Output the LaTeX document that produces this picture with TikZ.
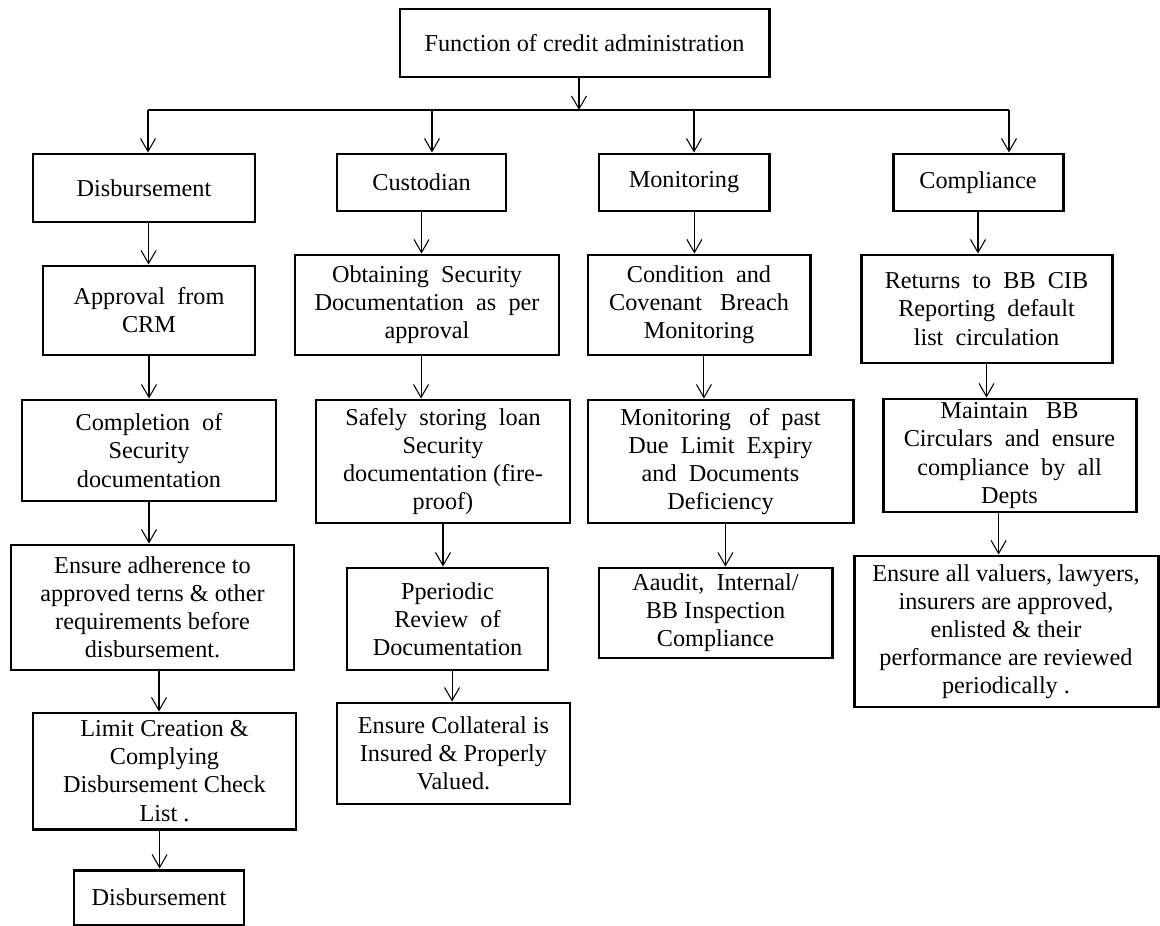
\documentclass[tikz,border=0pt]{standalone}
\usepackage{fontspec}
\setmainfont{Liberation Serif}
\usetikzlibrary{arrows.meta,fit}

\tikzset{
  box/.style={draw, line width=1.7pt, inner sep=0pt},
  txt/.style={align=center, inner sep=0pt, font=\fontsize{13.8}{16}\selectfont},
  arr/.style={line width=0.6pt, -{Straight Barb[length=2.6mm,width=3mm]}}
}
% box with its text set in the middle
\newcommand{\tbox}[3]{\node[box, fit={#2}, label={[txt]center:{#3}}] (#1) {};}

\begin{document}
\begin{tikzpicture}[x=0.02cm, y=-0.02cm]
\useasboundingbox (0,0) rectangle (1160,926);

\tbox{top}{(400,9) (769,77)}{Function of credit administration}

\tbox{disb}{(33,154) (255,222)}{Disbursement}
\tbox{cust}{(337,154) (506,211)}{Custodian}
\tbox{moni}{(599,154) (769,211)}{Monitoring}
\tbox{comp}{(893,154) (1063,211)}{Compliance}

\tbox{appr}{(43,266) (255,355)}{Approval \ from\\CRM}
\tbox{obt}{(295,255) (559,355)}{Obtaining \ Security\\Documentation \ as \ per\\approval}
\tbox{cond}{(588,255) (810,355)}{Condition \ and\\Covenant \ \ Breach\\Monitoring}
\tbox{ret}{(861,255) (1112,363)}{Returns \ to \ BB \ CIB\\Reporting \ default\\list \ circulation}

\tbox{compl}{(22,400) (276,501)}{Completion \ of\\Security\\documentation}
\tbox{safe}{(316,400) (570,523)}{Safely \ storing \ loan\\Security\\documentation (fire-\\proof)}
\tbox{past}{(588,400) (853,523)}{Monitoring \ \ of \ past\\Due \ Limit \ Expiry\\and \ Documents\\Deficiency}
\tbox{maint}{(883,399) (1136,512)}{Maintain \ \ BB\\Circulars \ and \ ensure\\compliance \ by \ all\\Depts}

\tbox{adh}{(11,545) (294,670)}{Ensure adherence to\\approved terns \& other\\requirements before\\disbursement.}
\tbox{per}{(347,568) (548,670)}{Pperiodic\\Review \ of\\Documentation}
\tbox{aud}{(599,568) (832,658)}{Aaudit, \ Internal/\\BB Inspection\\Compliance}
\tbox{val}{(854,556) (1158,707)}{Ensure all valuers, lawyers,\\insurers are approved,\\enlisted \& their\\performance are reviewed\\periodically .}

\tbox{lim}{(33,713) (296,829)}{Limit Creation \&\\Complying\\Disbursement Check\\List .}
\tbox{coll}{(337,703) (570,804)}{Ensure Collateral is\\Insured \& Properly\\Valued.}

\tbox{disbb}{(74,870) (244,925)}{Disbursement}

% branches from the top box
\coordinate (bar) at (579,110);
\draw[arr] (bar |- top.south) -- (bar);
\foreach \n/\x in {disb/148, cust/432, moni/694, comp/1009} {
  \coordinate (b-\n) at (\x,110);
  \draw[arr] (b-\n) -- (b-\n |- \n.north);
}
\draw[line width=0.6pt] (b-disb) -- (b-comp);

\foreach \a/\b/\s in {disb/appr/2.6, appr/compl/0, compl/adh/0, adh/lim/3.7, lim/disbb/-2.8,
                      cust/obt/0, obt/safe/-3.4, safe/per/0, per/coll/2.6,
                      moni/cond/5.9, cond/past/2.8, past/aud/2.8,
                      comp/ret/0, ret/maint/0, maint/val/-6.2} {
  \draw[arr, transform canvas={xshift=\s pt}] (\a.south) -- (\a.south |- \b.north);
}

\end{tikzpicture}
\end{document}
